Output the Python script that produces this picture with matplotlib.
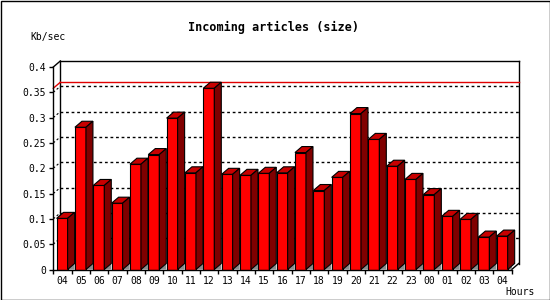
import matplotlib
matplotlib.use("Agg")
import matplotlib.pyplot as plt
from matplotlib.patches import Polygon, Rectangle

# data
hours = ["04", "05", "06", "07", "08", "09", "10", "11", "12", "13", "14", "15", "16",
         "17", "18", "19", "20", "21", "22", "23", "00", "01", "02", "03", "04"]
kb_sec = [0.101, 0.281, 0.166, 0.131, 0.208, 0.227, 0.299, 0.191, 0.358, 0.188, 0.186, 0.190, 0.191,
          0.231, 0.156, 0.182, 0.308, 0.257, 0.204, 0.178, 0.148, 0.105, 0.099, 0.064, 0.066]
y_ticks = [0, 0.05, 0.1, 0.15, 0.2, 0.25, 0.3, 0.35, 0.4]
y_labels = ["0", "0.05", "0.1", "0.15", "0.2", "0.25", "0.3", "0.35", "0.4"]

C_FRONT = "#ff0000"; C_SIDE = "#800000"; C_TOP = "#c80000"; C_SHADOW = "#8c8c8c"
FONT = "DejaVu Sans Mono"

W, H = 550, 300
fig = plt.figure(figsize=(W / 100, H / 100), dpi=100)
fig.patch.set_facecolor("white")
# plot area in pixels: x 53.3..511.7, y(0)=269.5, y(0.4)=67
ax = fig.add_axes([53.3 / W, 1 - 269.5 / H, 458.4 / W, 202.5 / H])
ax.set_xlim(-0.5, len(hours) - 0.5)
ax.set_ylim(0, 0.4)
ax.set_facecolor("none")
for s in ax.spines.values():
    s.set_visible(False)

# depth of the 3d effect in data units (7 px right, 6 px up)
dx = 7.0 / 18.336
dy = 6.0 / 506.25
x0, x1 = -0.5, len(hours) - 0.5
ytop = 0.4

# back panel + grid
ax.plot([x0 + dx, x1 + dx], [ytop + dy, ytop + dy], color="black", lw=1, clip_on=False, zorder=1)
ax.plot([x1 + dx, x1 + dx], [dy, ytop + dy], color="black", lw=1, clip_on=False, zorder=1)
ax.plot([x0 + dx, x0 + dx], [dy, ytop + dy], color="black", lw=1, clip_on=False, zorder=1)
ax.plot([x1, x1 + dx], [0, dy], color="black", lw=1, clip_on=False, zorder=1)
ax.plot([x0, x0 + dx], [ytop, ytop + dy], color="black", lw=1, clip_on=False, zorder=1)
for v in y_ticks[1:-1]:
    ax.plot([x0 + dx, x1 + dx], [v + dy, v + dy], color="black", lw=1, ls=(0, (2, 2)),
            clip_on=False, zorder=1)
    ax.plot([x0, x0 + dx], [v, v + dy], color="black", lw=0.8, ls=(0, (2, 2)),
            clip_on=False, zorder=1)
vmax = max(kb_sec)
ax.plot([x0 + dx, x1 + dx], [vmax + dy, vmax + dy], color="#e00000", lw=1, clip_on=False, zorder=1.5)
ax.plot([x0, x0 + dx], [vmax, vmax + dy], color="#e00000", lw=1, clip_on=False, zorder=1.5)

# bars: front faces through ax.bar, then top / side faces
bw = 0.6
lefts = [i - 0.32 for i in range(len(hours))]
ax.bar(lefts, kb_sec, width=bw, align="edge", color=C_FRONT, edgecolor="black",
       linewidth=0.8, zorder=3)
for xl, v in zip(lefts, kb_sec):
    xr = xl + bw
    ax.add_patch(Polygon([(xr, 0), (xr + dx, dy), (xr + dx, 0)], closed=True,
                         fc=C_SHADOW, ec="none", zorder=2))
    ax.add_patch(Polygon([(xl, v), (xl + dx, v + dy), (xr + dx, v + dy), (xr, v)], closed=True,
                         fc=C_TOP, ec="black", lw=0.8, zorder=3, clip_on=False))
    ax.add_patch(Polygon([(xr, 0), (xr + dx, dy), (xr + dx, v + dy), (xr, v)], closed=True,
                         fc=C_SIDE, ec="black", lw=0.8, zorder=3, clip_on=False))

# front axes
ax.plot([x0, x0], [0, ytop], color="black", lw=1, clip_on=False, zorder=4)
ax.plot([x0, x1], [0, 0], color="black", lw=1, clip_on=False, zorder=4)

# ticks
ax.set_yticks(y_ticks)
ax.set_yticklabels(y_labels, fontfamily=FONT, fontsize=7)
ax.tick_params(axis="y", direction="out", length=3, width=1, pad=2)
ax.set_xticks(range(len(hours)))
ax.set_xticklabels(hours, fontfamily=FONT, fontsize=7)
ax.set_xticks([i - 0.5 for i in range(len(hours) + 1)], minor=True)
ax.tick_params(axis="x", which="major", length=0, pad=5)
ax.tick_params(axis="x", which="minor", direction="out", length=3, width=1)

fig.text(274 / W, 1 - 27 / H, "Incoming articles (size)", ha="center", va="center",
         fontfamily=FONT, fontsize=8.5, fontweight="bold")
fig.text(30 / W, 1 - 37 / H, "Kb/sec", ha="left", va="center", fontfamily=FONT, fontsize=7)
fig.text(535 / W, 1 - 292 / H, "Hours", ha="right", va="center", fontfamily=FONT, fontsize=7)

fig.add_artist(Rectangle((0.5 / W, 0.5 / H), (W - 1) / W, (H - 1) / H, transform=fig.transFigure,
                         fill=False, ec="black", lw=1))

fig.savefig("out.png", dpi=100, facecolor="white")
